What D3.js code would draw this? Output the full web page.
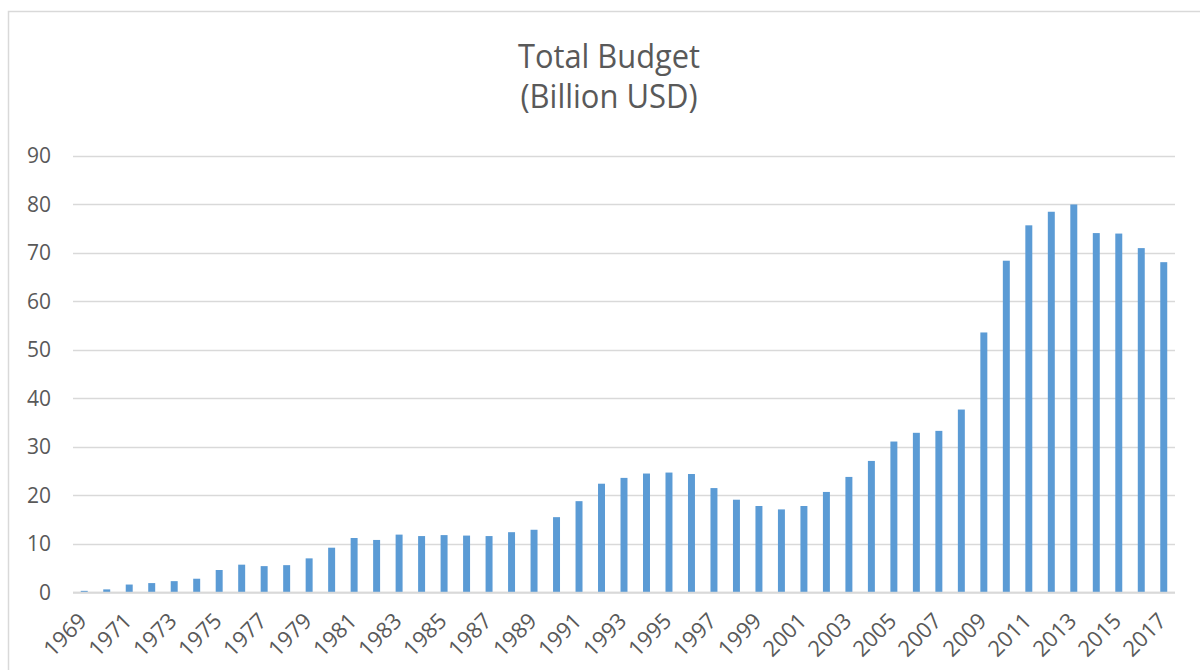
<!DOCTYPE html>
<html>
<head>
<meta charset="utf-8">
<script src="https://cdn.jsdelivr.net/npm/d3@7"></script>
<style>
  html, body { margin: 0; padding: 0; background: #fff; }
  svg { display: block; }
  text { font-family: "Open Sans", "Noto Sans", sans-serif; fill: #595959; }
</style>
</head>
<body>
<svg id="chart" width="1200" height="670"></svg>
<script>
// Fiscal years shown on the category axis
const years = [
  1969, 1970, 1971, 1972, 1973, 1974, 1975, 1976, 1977, 1978,
  1979, 1980, 1981, 1982, 1983, 1984, 1985, 1986, 1987, 1988,
  1989, 1990, 1991, 1992, 1993, 1994, 1995, 1996, 1997, 1998,
  1999, 2000, 2001, 2002, 2003, 2004, 2005, 2006, 2007, 2008,
  2009, 2010, 2011, 2012, 2013, 2014, 2015, 2016, 2017
];

// Total budget per year, billion USD
const budget = [
  0.3, 0.6, 1.6, 1.9, 2.3, 2.8, 4.6, 5.7, 5.4, 5.6,
  7.0, 9.2, 11.2, 10.8, 11.9, 11.6, 11.8, 11.7, 11.6, 12.4,
  12.9, 15.5, 18.8, 22.4, 23.6, 24.5, 24.7, 24.4, 21.5, 19.1,
  17.8, 17.1, 17.8, 20.7, 23.8, 27.1, 31.1, 32.9, 33.3, 37.7,
  53.6, 68.4, 75.7, 78.5, 80.0, 74.1, 74.0, 71.0, 68.1
];

// Value axis ticks
const yTicks = [0, 10, 20, 30, 40, 50, 60, 70, 80, 90];

// Title lines
const titleLines = ["Total Budget", "(Billion USD)"];

const svg = d3.select("#chart");
const margin = { left: 73, right: 25, top: 156, bottom: 78 };
const W = 1200, H = 670;

// Outer chart frame
svg.append("rect")
  .attr("x", 8.5).attr("y", 11.5)
  .attr("width", 1200).attr("height", 700)
  .attr("fill", "none")
  .attr("stroke", "#d9d9d9")
  .attr("stroke-width", 1.5);

const x = d3.scaleBand()
  .domain(years)
  .range([margin.left, W - margin.right])
  .paddingInner(0.69)
  .paddingOuter(0.345);

const y = d3.scaleLinear()
  .domain([0, 90])
  .range([592.3, 156]);

// Horizontal gridlines
svg.append("g")
  .selectAll("line")
  .data(yTicks)
  .join("line")
  .attr("x1", margin.left)
  .attr("x2", W - margin.right)
  .attr("y1", d => Math.round(y(d)) + 0.5)
  .attr("y2", d => Math.round(y(d)) + 0.5)
  .attr("stroke", "#d9d9d9")
  .attr("stroke-width", 1.5);

// Y axis labels
const yAxis = d3.axisLeft(y).tickValues(yTicks).tickSize(0).tickPadding(0);
const yg = svg.append("g")
  .attr("transform", "translate(51,0)")
  .call(yAxis);
yg.select(".domain").remove();
yg.selectAll("text")
  .attr("font-size", 21)
  .attr("fill", "#595959")
  .attr("font-family", "'Open Sans', sans-serif");

// Bars
svg.append("g")
  .selectAll("rect")
  .data(years.map((yr, i) => ({ yr, v: budget[i] })))
  .join("rect")
  .attr("x", d => x(d.yr))
  .attr("width", x.bandwidth())
  .attr("y", d => y(d.v))
  .attr("height", d => y(0) - y(d.v))
  .attr("fill", "#5b9bd5");

// Baseline
svg.append("line")
  .attr("x1", margin.left).attr("x2", W - margin.right)
  .attr("y1", y(0) + 0.5).attr("y2", y(0) + 0.5)
  .attr("stroke", "#d9d9d9").attr("stroke-width", 2);

// X axis labels: every other year, rotated
const labelYears = years.filter((d, i) => i % 2 === 0);
const xAxis = d3.axisBottom(x).tickValues(labelYears).tickSize(0).tickPadding(0);
const xg = svg.append("g")
  .attr("transform", `translate(0,${y(0)})`)
  .call(xAxis);
xg.select(".domain").remove();
xg.selectAll("text")
  .attr("font-size", 22)
  .attr("fill", "#595959")
  .attr("font-family", "'Open Sans', sans-serif")
  .attr("text-anchor", "end")
  .attr("dy", null)
  .attr("y", 0)
  .attr("transform", "translate(4,30) rotate(-45)");

// Title
svg.append("g")
  .selectAll("text")
  .data(titleLines)
  .join("text")
  .attr("x", 609)
  .attr("y", (d, i) => 68 + i * 40)
  .attr("text-anchor", "middle")
  .attr("font-size", 32)
  .attr("textLength", (d, i) => i === 0 ? 182 : 177)
  .attr("lengthAdjust", "spacingAndGlyphs")
  .text(d => d);
</script>
</body>
</html>
